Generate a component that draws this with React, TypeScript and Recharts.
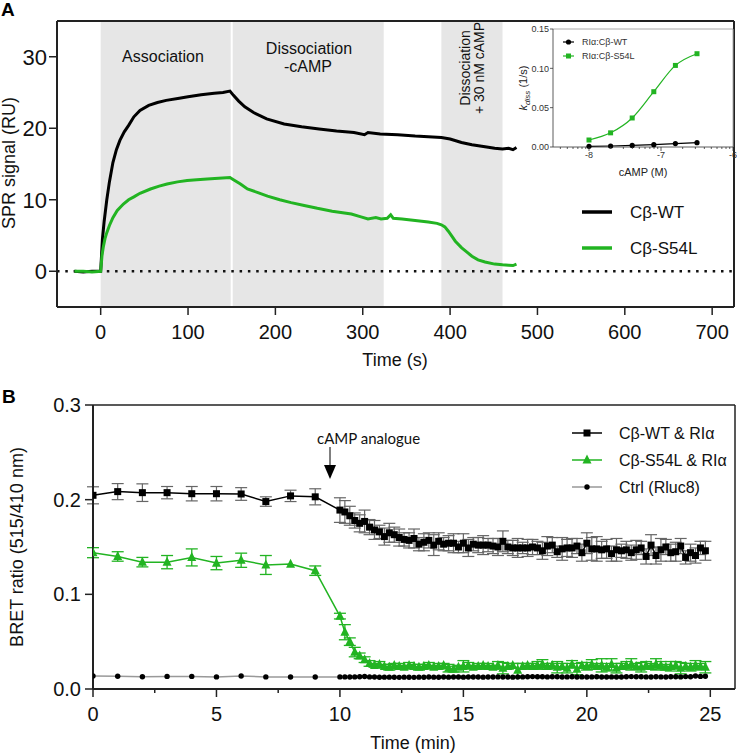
import React from 'react';
import { LineChart, Line, XAxis, YAxis, ReferenceArea, ReferenceLine, ErrorBar } from 'recharts';

// ---------- Panel A: SPR sensorgrams ----------
const SPR_WT_T = [-30, -20, -10, 0, 2, 4, 7, 10, 14, 18, 22, 27, 32, 38, 45, 55, 65, 75, 90, 100, 115, 130, 140, 148, 152, 158, 165, 175, 190, 210, 230, 250, 270, 290, 302, 306, 320, 340, 360, 375, 390, 400, 413, 425, 440, 451, 460, 467, 472, 476];
const SPR_WT_V = [0, -0.1, 0, 0, 4.5, 7, 10, 12.5, 15.2, 17, 18.3, 19.5, 20.4, 21.6, 22.5, 23.2, 23.6, 23.9, 24.2, 24.4, 24.7, 24.9, 25.0, 25.2, 24.6, 23.8, 23.0, 22.2, 21.3, 20.6, 20.2, 19.9, 19.6, 19.4, 19.1, 19.4, 19.2, 19.1, 18.9, 18.8, 18.7, 18.5, 18.0, 17.7, 17.4, 17.2, 17.1, 17.2, 17.0, 17.3];
const SPR_MUT_T = [-30, -20, -10, 0, 1.5, 3, 5, 7, 10, 14, 19, 26, 32, 38, 45, 57, 67, 76, 88, 99, 110, 122, 135, 148, 152, 160, 168, 180, 191, 205, 218, 233, 248, 265, 287, 298, 306, 315, 321, 328, 332, 335, 345, 360, 375, 385, 390, 394, 398, 402, 406, 413, 420, 425, 432, 440, 451, 460, 467, 472, 476];
const SPR_MUT_V = [0, 0, -0.1, 0, 2.2, 3.4, 4.6, 5.4, 6.4, 7.5, 8.5, 9.4, 10.0, 10.4, 10.9, 11.5, 11.9, 12.2, 12.5, 12.7, 12.8, 12.9, 13.0, 13.1, 12.8, 12.2, 11.5, 11.0, 10.5, 10.0, 9.6, 9.2, 8.8, 8.4, 8.0, 7.6, 7.3, 7.5, 7.3, 7.4, 7.9, 7.4, 7.3, 7.1, 6.9, 6.7, 6.5, 6.2, 5.6, 4.9, 4.2, 3.3, 2.6, 2.1, 1.6, 1.3, 1.0, 0.9, 0.85, 0.8, 1.0];
const SPR_X_TICKS = [0, 100, 200, 300, 400, 500, 600, 700];
const SPR_Y_TICKS = [0, 10, 20, 30];
const SPR_PHASES = [
  { x1: 0, x2: 150 },
  { x1: 150, x2: 324 },
  { x1: 390, x2: 460 },
];

// ---------- Inset: kdiss vs cAMP ----------
const KD_LOGC = [-8, -7.7, -7.4, -7.1, -6.8, -6.5];
const KD_WT = [0.0008, 0.0013, 0.002, 0.003, 0.0043, 0.0055];
const KD_MUT = [0.0089, 0.018, 0.0369, 0.0703, 0.1037, 0.1186];
const KD_Y_TICKS = [0, 0.05, 0.1, 0.15];
const KD_MAJOR = [-8, -7, -6];
const KD_MULT = [2, 3, 4, 5, 6, 7, 8, 9];

// ---------- Panel B: BRET ----------
const BRET_T = [
  0, 1, 2, 3, 4, 5, 6, 7, 8, 9,
  10, 10.2, 10.4, 10.6, 10.8, 11, 11.2, 11.4, 11.6, 11.8,
  12, 12.2, 12.4, 12.6, 12.8, 13, 13.2, 13.4, 13.6, 13.8,
  14, 14.2, 14.4, 14.6, 14.8, 15, 15.2, 15.4, 15.6, 15.8,
  16, 16.2, 16.4, 16.6, 16.8, 17, 17.2, 17.4, 17.6, 17.8,
  18, 18.2, 18.4, 18.6, 18.8, 19, 19.2, 19.4, 19.6, 19.8,
  20, 20.2, 20.4, 20.6, 20.8, 21, 21.2, 21.4, 21.6, 21.8,
  22, 22.2, 22.4, 22.6, 22.8, 23, 23.2, 23.4, 23.6, 23.8,
  24, 24.2, 24.4, 24.6, 24.8,
];
const BRET_WT = [
  0.2046, 0.2085, 0.2074, 0.2074, 0.2063, 0.2063, 0.206, 0.198, 0.204, 0.203,
  0.189, 0.187, 0.183, 0.178, 0.175, 0.177, 0.171, 0.168, 0.166, 0.161,
  0.165, 0.163, 0.160, 0.158, 0.157, 0.159, 0.153, 0.155, 0.157, 0.152,
  0.156, 0.153, 0.154, 0.154, 0.150, 0.154, 0.149, 0.153, 0.152, 0.152,
  0.152, 0.151, 0.150, 0.156, 0.150, 0.149, 0.149, 0.149, 0.149, 0.150,
  0.149, 0.146, 0.151, 0.152, 0.145, 0.148, 0.149, 0.149, 0.151, 0.144,
  0.154, 0.148, 0.148, 0.147, 0.148, 0.143, 0.147, 0.146, 0.147, 0.144,
  0.147, 0.149, 0.140, 0.152, 0.141, 0.147, 0.150, 0.144, 0.145, 0.151,
  0.139, 0.144, 0.141, 0.149, 0.146,
];
const BRET_WT_ERR = [
  0.009, 0.0085, 0.0093, 0.0065, 0.0076, 0.0076, 0.0067, 0.005, 0.006, 0.0085,
  0.013, 0.012, 0.010, 0.008, 0.009, 0.012, 0.008, 0.010, 0.007, 0.009,
  0.010, 0.008, 0.009, 0.007, 0.008, 0.010, 0.007, 0.009, 0.008, 0.011,
  0.009, 0.007, 0.008, 0.010, 0.006, 0.010, 0.009, 0.007, 0.008, 0.010,
  0.007, 0.008, 0.009, 0.011, 0.007, 0.008, 0.010, 0.006, 0.009, 0.008,
  0.007, 0.009, 0.010, 0.008, 0.006, 0.012, 0.009, 0.010, 0.008, 0.009,
  0.011, 0.012, 0.013, 0.009, 0.010, 0.008, 0.012, 0.007, 0.009, 0.008,
  0.010, 0.007, 0.008, 0.011, 0.009, 0.012, 0.008, 0.009, 0.010, 0.008,
  0.007, 0.009, 0.008, 0.007, 0.010,
];
const BRET_MUT = [
  0.144, 0.140, 0.134, 0.134, 0.139, 0.133, 0.136, 0.131, 0.132, 0.125,
  0.077, 0.060, 0.050, 0.039, 0.035, 0.031, 0.027, 0.025, 0.026, 0.024,
  0.023, 0.025, 0.024, 0.023, 0.025, 0.024, 0.023, 0.024, 0.025, 0.023,
  0.024, 0.025, 0.022, 0.021, 0.023, 0.024, 0.025, 0.023, 0.024, 0.025,
  0.024, 0.023, 0.025, 0.022, 0.024, 0.025, 0.020, 0.024, 0.025, 0.024,
  0.025, 0.026, 0.024, 0.025, 0.023, 0.024, 0.022, 0.026, 0.021, 0.025,
  0.024, 0.026, 0.024, 0.025, 0.023, 0.026, 0.022, 0.024, 0.025, 0.026,
  0.024, 0.023, 0.025, 0.024, 0.026, 0.025, 0.023, 0.024, 0.025, 0.022,
  0.024, 0.023, 0.025, 0.024, 0.023,
];
const BRET_MUT_ERR = [
  0.0053, 0.005, 0.005, 0.007, 0.009, 0.007, 0.0075, 0.010, 0, 0.005,
  0.003, 0.008, 0.004, 0.005, 0.003, 0.003, 0.003, 0.002, 0.003, 0.002,
  0.003, 0.002, 0.003, 0.002, 0.003, 0.002, 0.003, 0.002, 0.003, 0.002,
  0.003, 0.002, 0.004, 0.003, 0.002, 0.006, 0.003, 0.002, 0.003, 0.002,
  0.003, 0.002, 0.004, 0.006, 0.003, 0.002, 0.007, 0.003, 0.002, 0.003,
  0.004, 0.005, 0.003, 0.002, 0.006, 0.003, 0.005, 0.004, 0.006, 0.003,
  0.004, 0.005, 0.003, 0.007, 0.004, 0.006, 0.005, 0.003, 0.004, 0.006,
  0.003, 0.005, 0.004, 0.003, 0.006, 0.004, 0.003, 0.005, 0.004, 0.006,
  0.003, 0.004, 0.005, 0.003, 0.006,
];
const BRET_CTRL = [
  0.0137, 0.0134, 0.013, 0.0133, 0.0133, 0.0128, 0.0138, 0.0128, 0.0126, 0.0126,
  0.0128, 0.0128, 0.0126, 0.0128, 0.013, 0.0132, 0.0128, 0.0126, 0.0124, 0.0125,
  0.0125, 0.0124, 0.0123, 0.0125, 0.0124, 0.0123, 0.0125, 0.0124, 0.0126, 0.0125,
  0.0124, 0.0126, 0.0125, 0.0127, 0.0126, 0.0125, 0.0126, 0.0127, 0.0126, 0.0125,
  0.0126, 0.0127, 0.0128, 0.0126, 0.0127, 0.0125, 0.0126, 0.0128, 0.013, 0.0131,
  0.013, 0.0129, 0.0128, 0.013, 0.0129, 0.0127, 0.0128, 0.0129, 0.0127, 0.0128,
  0.0126, 0.0128, 0.0129, 0.0127, 0.0126, 0.0128, 0.0126, 0.0127, 0.0129, 0.0131,
  0.013, 0.0129, 0.0128, 0.0127, 0.0129, 0.0128, 0.0127, 0.0129, 0.013, 0.0128,
  0.0131, 0.013, 0.0138, 0.0133, 0.0135,
];
const BRET_X_TICKS = [0, 2.5, 5, 7.5, 10, 12.5, 15, 17.5, 20, 22.5, 25];
const BRET_Y_TICKS = [0, 0.1, 0.2, 0.3];

// ---------- derived tables ----------
const sprWt = SPR_WT_T.map((t, i) => ({ t, v: SPR_WT_V[i] }));
const sprMut = SPR_MUT_T.map((t, i) => ({ t, v: SPR_MUT_V[i] }));
const kdData = KD_LOGC.map((x, i) => ({ x, wt: KD_WT[i], mut: KD_MUT[i] }));
const kdMinor: number[] = [];
[-9, -8, -7].forEach((d) => KD_MULT.forEach((m) => {
  const v = d + Math.log10(m);
  if (v > -8.5 && v < -6) kdMinor.push(v);
}));
const kdTicks = [...KD_MAJOR, ...kdMinor].sort((a, b) => a - b);
const bretData = BRET_T.map((t, i) => ({
  t,
  wt: BRET_WT[i], wtErr: BRET_WT_ERR[i],
  mut: BRET_MUT[i], mutErr: BRET_MUT_ERR[i],
  ctrl: BRET_CTRL[i],
}));

const FONT = '"Liberation Sans", Arial, Helvetica, sans-serif';
const GREEN = '#22b422';
const AX = '#222';

const squareDot = (size: number, fill: string) => (p: any) => {
  if (p.cx == null || p.cy == null || p.value == null) return <g key={`sq${p.index}`} />;
  return <rect key={`sq${p.index}`} x={p.cx - size / 2} y={p.cy - size / 2} width={size} height={size} fill={fill} />;
};
const circleDot = (r: number, fill: string) => (p: any) => {
  if (p.cx == null || p.cy == null || p.value == null) return <g key={`c${p.index}`} />;
  return <circle key={`c${p.index}`} cx={p.cx} cy={p.cy} r={r} fill={fill} />;
};
const triDot = (s: number, fill: string) => (p: any) => {
  if (p.cx == null || p.cy == null || p.value == null) return <g key={`t${p.index}`} />;
  const pts = `${p.cx},${p.cy - s * 0.6} ${p.cx - s / 2},${p.cy + s * 0.4} ${p.cx + s / 2},${p.cy + s * 0.4}`;
  return <polygon key={`t${p.index}`} points={pts} fill={fill} />;
};

const BXTick = (props: any) => {
  const { x, y, payload } = props;
  const major = payload.value % 5 === 0;
  const axisY = y - 18;
  return (
    <g>
      <line x1={x} x2={x} y1={axisY} y2={axisY + (major ? 8 : 4)} stroke={AX} strokeWidth={1.5} />
      {major && (
        <text x={x} y={y} dy="0.71em" textAnchor="middle" fontSize={20} fill="#111" fontFamily={FONT}>
          {payload.value}
        </text>
      )}
    </g>
  );
};

const KdXTick = (props: any) => {
  const { x, y, payload } = props;
  const major = KD_MAJOR.includes(payload.value);
  const axisY = y - 5;
  return (
    <g>
      <line x1={x} x2={x} y1={axisY} y2={axisY + (major ? 4 : 2)} stroke="#333" strokeWidth={0.8} />
      {major && (
        <text x={x} y={y} dy="0.71em" textAnchor="middle" fontSize={9} fill="#333" fontFamily={FONT}>
          {payload.value}
        </text>
      )}
    </g>
  );
};

export default function App() {
  return (
    <div style={{ position: 'absolute', left: 0, top: 0, width: 737, height: 753, background: '#fff', fontFamily: FONT }}>
      {/* Panel A */}
      <div style={{ position: 'absolute', left: 0, top: 0 }}>
        <LineChart width={737} height={375} margin={{ top: 21, right: 3, bottom: 28, left: 2 }}>
          <XAxis
            type="number" dataKey="t" domain={[-50, 725]} ticks={SPR_X_TICKS} interval={0}
            allowDataOverflow height={40} tickSize={8} tickMargin={10}
            axisLine={{ stroke: AX, strokeWidth: 2 }} tickLine={{ stroke: AX, strokeWidth: 1.5 }}
            tick={{ fontSize: 20, fill: '#111', fontFamily: FONT }}
          />
          <YAxis
            type="number" domain={[-5, 35]} ticks={SPR_Y_TICKS} interval={0} allowDataOverflow
            width={55} tickSize={8} tickMargin={2}
            axisLine={{ stroke: AX, strokeWidth: 2 }} tickLine={{ stroke: AX, strokeWidth: 1.5 }}
            tick={{ fontSize: 22, fill: '#111', fontFamily: FONT }}
          />
          {SPR_PHASES.map((p, i) => (
            <ReferenceArea key={i} x1={p.x1} x2={p.x2} y1={-5} y2={35} fill="#e6e6e6" fillOpacity={1} stroke="none" />
          ))}
          <ReferenceLine x={150} stroke="#fff" strokeWidth={2} />
          <ReferenceLine y={0} stroke="#111" strokeWidth={2.5} strokeDasharray="2.5 5.8" />
          <Line data={sprWt} dataKey="v" type="linear" stroke="#000" strokeWidth={3} dot={false} isAnimationActive={false} />
          <Line data={sprMut} dataKey="v" type="linear" stroke={GREEN} strokeWidth={3} dot={false} isAnimationActive={false} />
          <ReferenceLine y={35} stroke={AX} strokeWidth={2} />
          <ReferenceLine x={725} stroke={AX} strokeWidth={2} />
        </LineChart>
      </div>

      {/* Inset */}
      <div style={{ position: 'absolute', left: 510, top: 5 }}>
        <LineChart width={230} height={185} data={kdData} margin={{ top: 24, right: 7, bottom: 23, left: 13 }}>
          <XAxis
            type="number" dataKey="x" domain={[-8.5, -6]} ticks={kdTicks} interval={0} allowDataOverflow
            height={20} tickSize={4} tickMargin={1} tickLine={false}
            axisLine={{ stroke: '#333', strokeWidth: 0.8 }} tick={<KdXTick />}
          />
          <YAxis
            type="number" domain={[0, 0.15]} ticks={KD_Y_TICKS} interval={0} width={30}
            tickSize={3} tickMargin={1} tickFormatter={(v: number) => v.toFixed(2)}
            axisLine={{ stroke: '#333', strokeWidth: 0.8 }} tickLine={{ stroke: '#333', strokeWidth: 0.8 }}
            tick={{ fontSize: 9, fill: '#333', fontFamily: FONT }}
          />
          <ReferenceLine y={0.15} stroke="#aaa" strokeWidth={1} />
          <ReferenceLine x={-6} stroke="#aaa" strokeWidth={1} />
          <Line dataKey="wt" type="linear" stroke="#000" strokeWidth={1.2} dot={circleDot(2.6, '#000')} isAnimationActive={false} />
          <Line dataKey="mut" type="monotone" stroke={GREEN} strokeWidth={1.2} dot={squareDot(5, GREEN)} isAnimationActive={false} />
        </LineChart>
      </div>

      {/* Panel B */}
      <div style={{ position: 'absolute', left: 0, top: 380 }}>
        <LineChart width={737} height={373} data={bretData} margin={{ top: 25, right: 2, bottom: 24, left: 33 }}>
          <XAxis
            type="number" dataKey="t" domain={[0, 26]} ticks={BRET_X_TICKS} interval={0} allowDataOverflow
            height={40} tickSize={8} tickMargin={10} tickLine={false}
            axisLine={{ stroke: AX, strokeWidth: 2 }} tick={<BXTick />}
          />
          <YAxis
            type="number" domain={[0, 0.3]} ticks={BRET_Y_TICKS} interval={0} width={60}
            tickSize={8} tickMargin={4} tickFormatter={(v: number) => v.toFixed(1)}
            axisLine={{ stroke: AX, strokeWidth: 2 }} tickLine={{ stroke: AX, strokeWidth: 1.5 }}
            tick={{ fontSize: 20, fill: '#111', fontFamily: FONT }}
          />
          <ReferenceLine y={0.3} stroke={AX} strokeWidth={1.5} />
          <ReferenceLine x={26} stroke={AX} strokeWidth={1.5} />
          <Line dataKey="ctrl" type="linear" stroke="#999" strokeWidth={1.5} dot={circleDot(2.7, '#000')} isAnimationActive={false} />
          <Line dataKey="mut" type="linear" stroke={GREEN} strokeWidth={1.5} dot={triDot(9, GREEN)} isAnimationActive={false}>
            <ErrorBar dataKey="mutErr" width={6} stroke={GREEN} strokeWidth={1.3} direction="y" />
          </Line>
          <Line dataKey="wt" type="linear" stroke="#000" strokeWidth={1.5} dot={squareDot(7, '#000')} isAnimationActive={false}>
            <ErrorBar dataKey="wtErr" width={6} stroke="#666" strokeWidth={1.2} direction="y" />
          </Line>
        </LineChart>
      </div>

      {/* Annotations */}
      <svg width={737} height={753} style={{ position: 'absolute', left: 0, top: 0, pointerEvents: 'none' }} fontFamily={FONT}>
        <text x={1} y={16} fontSize={19} fontWeight="bold" fill="#000">A</text>
        <text x={2} y={403} fontSize={19} fontWeight="bold" fill="#000">B</text>

        <text transform="translate(15,163) rotate(-90)" textAnchor="middle" fontSize={18} fill="#111">SPR signal (RU)</text>
        <text x={395} y={366} textAnchor="middle" fontSize={18} fill="#111">Time (s)</text>

        <text x={163} y={62} textAnchor="middle" fontSize={16} fill="#111">Association</text>
        <text x={309} y={54} textAnchor="middle" fontSize={16} fill="#111">Dissociation</text>
        <text x={308} y={72} textAnchor="middle" fontSize={16} fill="#111">-cAMP</text>
        <text transform="translate(470,68) rotate(-90)" textAnchor="middle" fontSize={14} fill="#111">Dissociation</text>
        <text transform="translate(484,68) rotate(-90)" textAnchor="middle" fontSize={14} fill="#111">+ 30 nM cAMP</text>

        <line x1={582} x2={612} y1={212} y2={212} stroke="#000" strokeWidth={3.5} />
        <text x={630} y={218} fontSize={17} fill="#111">Cβ-WT</text>
        <line x1={582} x2={612} y1={248} y2={248} stroke={GREEN} strokeWidth={3.5} />
        <text x={630} y={254} fontSize={17} fill="#111">Cβ-S54L</text>

        <text transform="translate(527,88) rotate(-90)" textAnchor="middle" fontSize={11} fill="#222">
          <tspan fontStyle="italic">k</tspan>
          <tspan fontStyle="italic" fontSize={8} dy={3}>diss</tspan>
          <tspan dy={-3}> (1/s)</tspan>
        </text>
        <text x={643} y={176} textAnchor="middle" fontSize={11} fill="#222">cAMP (M)</text>
        <line x1={563} x2={574} y1={42} y2={42} stroke="#000" strokeWidth={1.2} />
        <circle cx={568.5} cy={42} r={2.6} fill="#000" />
        <text x={582} y={45} fontSize={9} fill="#333">RIα:Cβ-WT</text>
        <line x1={563} x2={574} y1={56} y2={56} stroke={GREEN} strokeWidth={1.2} />
        <rect x={566} y={53.5} width={5} height={5} fill={GREEN} />
        <text x={582} y={59} fontSize={9} fill="#333">RIα:Cβ-S54L</text>

        <text transform="translate(23,547) rotate(-90)" textAnchor="middle" fontSize={18} fill="#111">BRET ratio (515/410 nm)</text>
        <text x={413} y={749} textAnchor="middle" fontSize={18} fill="#111">Time (min)</text>

        <text x={317} y={444} fontSize={15} fill="#111" fontFamily="Lato, 'Open Sans', sans-serif">cAMP analogue</text>
        <line x1={330} x2={330} y1={447} y2={467} stroke="#000" strokeWidth={1} />
        <polygon points="324,465 336,465 330,479" fill="#000" />

        <line x1={572} x2={602} y1={433} y2={433} stroke="#000" strokeWidth={1.5} />
        <rect x={583.5} y={429.5} width={7} height={7} fill="#000" />
        <text x={619} y={439} fontSize={16} fill="#111">Cβ-WT &amp; RIα</text>
        <line x1={572} x2={602} y1={460} y2={460} stroke={GREEN} strokeWidth={1.5} />
        <polygon points="587,454.6 582.5,463.6 591.5,463.6" fill={GREEN} />
        <text x={619} y={466} fontSize={16} fill="#111">Cβ-S54L &amp; RIα</text>
        <line x1={572} x2={602} y1={487} y2={487} stroke="#999" strokeWidth={1.5} />
        <circle cx={587} cy={487} r={2.7} fill="#000" />
        <text x={619} y={493} fontSize={16} fill="#111">Ctrl (Rluc8)</text>
      </svg>
    </div>
  );
}
